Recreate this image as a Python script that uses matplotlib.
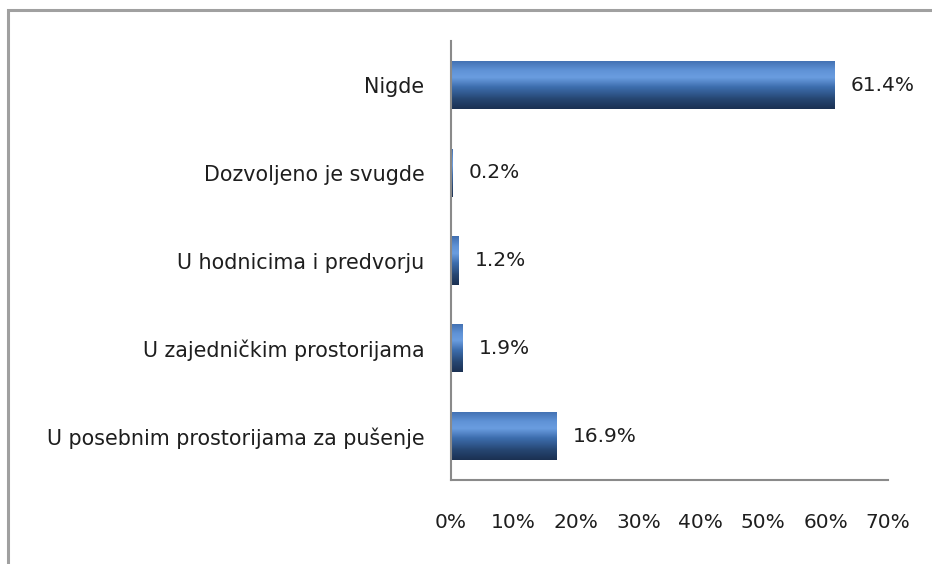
import numpy as np
import matplotlib
matplotlib.use("Agg")
from matplotlib import pyplot as plt
from matplotlib.colors import LinearSegmentedColormap
from matplotlib.patches import Rectangle

categories = ["U posebnim prostorijama za pušenje", "U zajedničkim prostorijama",
              "U hodnicima i predvorju", "Dozvoljeno je svugde", "Nigde"]
values = [16.9, 1.9, 1.2, 0.2, 61.4]
value_labels = ["16.9%", "1.9%", "1.2%", "0.2%", "61.4%"]
x_ticks = [0, 10, 20, 30, 40, 50, 60, 70]

plt.rcParams['font.family'] = ['DejaVu Sans']
FS = 14.5

fig = plt.figure(figsize=(9.32, 5.64), dpi=100)
ax = fig.add_axes([0.4839, 0.149, 0.469, 0.778])

# outer frame (only top and left edges visible)
fig.patches.append(Rectangle((8 / 932, -0.1), 1.2, 1 - 10 / 564 + 0.1, transform=fig.transFigure,
                             fill=False, edgecolor="#a0a0a0", linewidth=2.2))

y = np.arange(len(categories))
bars = ax.barh(y, values, height=0.55, color="#3f6fae", edgecolor="none")

# vertical gradient inside each bar
cmap = LinearSegmentedColormap.from_list("bar", [
    (0.0, "#1b3153"), (0.2, "#264672"), (0.45, "#3d6eae"), (0.65, "#6a9de0"),
    (0.8, "#5f92d6"), (1.0, "#416fb0")])
grad = np.linspace(0, 1, 64).reshape(-1, 1)
for b in bars:
    x0, y0 = b.get_x(), b.get_y()
    w, h = b.get_width(), b.get_height()
    im = ax.imshow(grad, cmap=cmap, aspect="auto", origin="lower",
                   extent=[x0, x0 + w, y0, y0 + h], zorder=2)
    im.set_clip_path(b)

for b, lab in zip(bars, value_labels):
    ax.annotate(lab, (b.get_width(), b.get_y() + b.get_height() / 2),
                xytext=(11.5, 0), textcoords="offset points", va="center", ha="left",
                fontsize=FS, color="#1e1e1e")

ax.set_xlim(0, 70)
ax.set_ylim(-0.5, len(categories) - 0.5)
ax.set_yticks(y)
ax.set_yticklabels(categories, fontsize=14.9, color="#1e1e1e")
ax.set_xticks(x_ticks)
ax.set_xticklabels([f"{t}%" for t in x_ticks], fontsize=FS, color="#1e1e1e")
ax.tick_params(axis="y", length=0, pad=19)
ax.tick_params(axis="x", length=0, pad=24)
ax.spines[["top", "right"]].set_visible(False)
ax.spines[["left", "bottom"]].set_color("#8a8a8a")
ax.spines[["left", "bottom"]].set_linewidth(1.5)

fig.savefig("out.png", dpi=100)
